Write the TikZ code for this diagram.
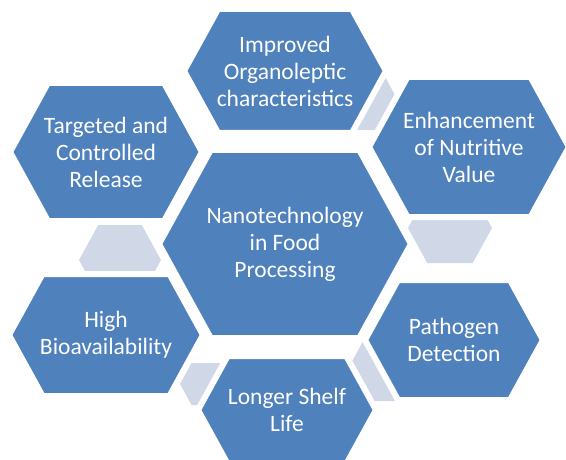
\documentclass[tikz,border=0pt]{standalone}
\usepackage{fontspec}
\setmainfont{Carlito}
\usetikzlibrary{calc, backgrounds}

\definecolor{hexblue}{HTML}{4F81BD}
\definecolor{piecegray}{HTML}{D0D8E8}

% hexagon, pointed left and right: centre, half width, half height
\newcommand{\hexpath}[3]{($(#1)+(-#2,0)$) -- ++({0.55*#3},-#3) -- ++({2*#2-1.1*#3},0) -- ++({0.55*#3},#3) -- ++({-0.55*#3},#3) -- ++({-2*#2+1.1*#3},0) -- cycle}

\begin{document}
\begin{tikzpicture}
	[x=1pt, y=-1pt,
	 hexbox/.style={fill=hexblue, draw=white, line width=6pt},
	 piece/.style={fill=piecegray},
	 hextext/.style={text=white, align=center, inner sep=0pt, font=\fontsize{23.5}{27}\selectfont}]

	\clip (0,0) rectangle (566,460);

	\node[hextext] (centre) at (285,244) {Nanotechnology\\in Food\\Processing};
	\node[hextext] (organo) at (285,71) {Improved\\Organoleptic\\characteristics};
	\node[hextext] (nutri) at (469,147) {Enhancement\\of Nutritive\\Value};
	\node[hextext] (pathogen) at (454,340) {Pathogen\\Detection};
	\node[hextext] (shelf) at (287,410) {Longer Shelf\\Life};
	\node[hextext] (bioavail) at (106,335) {High\\Bioavailability};
	\node[hextext] (release) at (106,152) {Targeted and\\Controlled\\Release};

	\begin{scope}[on background layer]
		% grey pieces between the outer hexagons
		\fill[piece] \hexpath{354,95}{41}{35};
		\fill[piece] \hexpath{450,228}{42}{35};
		\fill[piece] \hexpath{392,365}{42}{36};
		\fill[piece] \hexpath{218,384}{38}{21};
		\fill[piece] \hexpath{120,260}{41}{35};

		\draw[hexbox] \hexpath{centre}{126}{94};
		\draw[hexbox] \hexpath{organo}{101}{62};
		\draw[hexbox] \hexpath{nutri}{100}{70};
		\draw[hexbox] \hexpath{pathogen}{89}{60};
		\draw[hexbox] \hexpath{shelf}{89}{54};
		\draw[hexbox] \hexpath{bioavail}{97}{61};
		\draw[hexbox] \hexpath{release}{96}{69};
	\end{scope}
\end{tikzpicture}
\end{document}
